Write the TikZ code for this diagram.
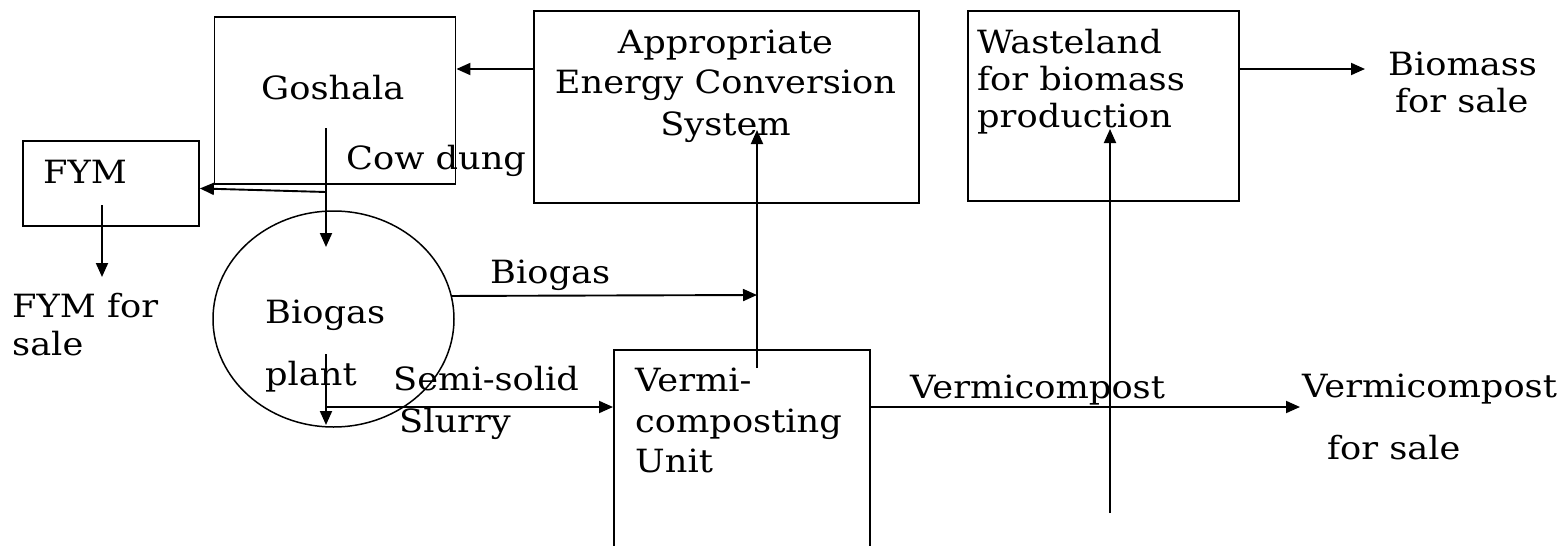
\documentclass[tikz,border=0pt]{standalone}
\usepackage{fontspec}
\setmainfont{DejaVu Serif}[FakeStretch=1.1]
\usetikzlibrary{shapes.geometric,arrows.meta}
\begin{document}
\begin{tikzpicture}[x=1pt,y=-1pt,
  box/.style={draw,line width=1.9pt,inner sep=0,anchor=north west},
  txt/.style={inner sep=0,anchor=base west,font=\fontsize{32}{40}\selectfont},
  ctxt/.style={txt,anchor=base},
  flow/.style={line width=1.9pt,-{Triangle[length=14pt,width=12pt]}}]
\useasboundingbox (0,0) rectangle (1564,546);
% boxes
\node[box,minimum width=241pt,minimum height=167pt] (gosh) at (213.5,16) {};
\node[box,minimum width=176pt,minimum height=85pt] (fym) at (22,140) {};
\node[box,minimum width=385pt,minimum height=192pt] (ecs) at (533,10) {};
\node[box,minimum width=271pt,minimum height=190pt] (wl) at (967,10) {};
\node[box,minimum width=256pt,minimum height=220pt] (vermi) at (613,349) {};
\node[draw,ellipse,line width=1.5pt,inner sep=0,minimum width=241pt,minimum height=216pt] (bp) at (333.5,319) {};
% texts
\node[txt] (tgosh) at (261,99) {Goshala};
\node[txt] (tcow) at (346,169) {Cow dung};
\node[txt] (tfym) at (43,183) {FYM};
\node[txt] (tfs1) at (12,317) {FYM for};
\node[txt] (tfs2) at (12,355) {sale};
\node[ctxt] (te1) at (725.5,53) {Appropriate};
\node[ctxt] (te2) at (725.5,93) {Energy Conversion};
\node[ctxt] (te3) at (725.5,135) {System};
\node[txt] (tw1) at (977,53) {Wasteland};
\node[txt] (tw2) at (977,90) {for biomass};
\node[txt] (tw3) at (977,127) {production};
\node[txt] (tb1) at (1388,75) {Biomass};
\node[txt] (tb2) at (1395,112) {for sale};
\node[txt] (tbg) at (490,283) {Biogas};
\node[txt] (tbp1) at (265,323) {Biogas};
\node[txt] (tbp2) at (265,385) {plant};
\node[txt] (tss1) at (393,390) {Semi-solid};
\node[txt] (tss2) at (399,432) {Slurry};
\node[txt] (tv1) at (635,391) {Vermi-};
\node[txt] (tv2) at (635,432) {composting};
\node[txt] (tv3) at (635,472) {Unit};
\node[txt] (tvc) at (910,398) {Vermicompost};
\node[txt] (tvs1) at (1302,397) {Vermicompost};
\node[txt] (tvs2) at (1327,459) {for sale};
% coordinates
\coordinate (r1) at (0,69);
\coordinate (cd0) at (326,128);
\coordinate (cd1) at (326,247);
\coordinate (cdf) at (326,192);
\coordinate (f0) at (102,205);
\coordinate (f1) at (102,277);
\coordinate (s0) at (326,354);
\coordinate (s1) at (326,425);
\coordinate (s2) at (326,407);
\coordinate (bg) at (757,295);
\coordinate (v0) at (757,368);
\coordinate (v1) at (757,130);
\coordinate (vc) at (1300,407);
\coordinate (w0) at (1110,513);
\coordinate (w1) at (1110,129);
\coordinate (bm) at (1365,69);
% connectors
\draw[flow] (ecs.west |- r1) -- (gosh.east |- r1);
\draw[flow] (cd0) -- (cd1);
\draw[flow] (cdf) -- ([yshift=-5pt]fym.east);
\draw[flow] (f0) -- (f1);
\draw[flow] (s0) -- (s1);
\draw[flow] (s2) -- (s2 -| vermi.west);
\draw[flow] (bp.11.5) -- (bg);
\draw[flow] (v0) -- (v1);
\draw[flow] (vermi.east |- s2) -- (vc);
\draw[flow] (w0) -- (w1);
\draw[flow] (wl.east |- bm) -- (bm);
\end{tikzpicture}
\end{document}
